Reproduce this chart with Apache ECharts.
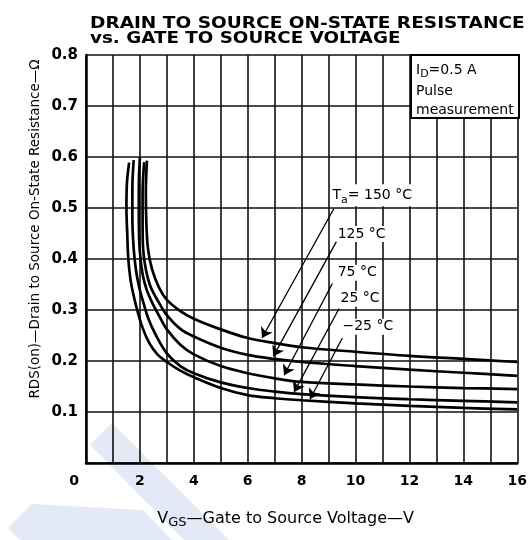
<!DOCTYPE html>
<html><head><meta charset="utf-8">
<script src="https://cdn.jsdelivr.net/npm/echarts@6/dist/echarts.min.js"></script>
<style>html,body{margin:0;padding:0;background:#fff}#c{width:530px;height:540px}</style>
</head><body><div id="c"></div>
<script>
// ---- data ----
const xTicks = [0, 2, 4, 6, 8, 10, 12, 14, 16];
const yTicks = [0.1, 0.2, 0.3, 0.4, 0.5, 0.6, 0.7, 0.8];
const seriesNames = ['150 °C', '125 °C', '75 °C', '25 °C', '−25 °C'];

const vgs150 = [2.26, 2.22, 2.24, 2.30, 2.45, 2.7, 3.0, 3.5, 4.0, 5.0, 6.0, 7.0, 8.0, 10.0, 12.0, 14.0, 16.0];
const rds150 = [0.593, 0.53, 0.47, 0.42, 0.38, 0.345, 0.32, 0.298, 0.283, 0.262, 0.245, 0.235, 0.227, 0.218, 0.210, 0.204, 0.198];

const vgs125 = [2.16, 2.10, 2.10, 2.12, 2.22, 2.4, 2.7, 3.0, 3.5, 4.0, 5.0, 6.0, 7.0, 8.0, 10.0, 12.0, 14.0, 16.0];
const rds125 = [0.59, 0.53, 0.47, 0.42, 0.38, 0.345, 0.315, 0.29, 0.263, 0.248, 0.226, 0.212, 0.204, 0.198, 0.19, 0.183, 0.177, 0.171];

const vgs75 = [2.0, 1.96, 1.96, 1.99, 2.1, 2.25, 2.45, 2.75, 3.0, 3.5, 4.0, 5.0, 6.0, 7.0, 8.0, 10.0, 12.0, 14.0, 16.0];
const rds75 = [0.60, 0.54, 0.48, 0.42, 0.37, 0.34, 0.315, 0.285, 0.262, 0.232, 0.213, 0.19, 0.176, 0.166, 0.159, 0.154, 0.150, 0.147, 0.145];

const vgs25 = [1.77, 1.72, 1.72, 1.77, 1.85, 1.97, 2.1, 2.3, 2.6, 3.0, 3.5, 4.0, 5.0, 6.0, 7.0, 8.0, 10.0, 12.0, 14.0, 16.0];
const rds25 = [0.594, 0.54, 0.48, 0.42, 0.38, 0.345, 0.32, 0.285, 0.25, 0.215, 0.19, 0.176, 0.158, 0.147, 0.140, 0.135, 0.129, 0.125, 0.122, 0.119];

const vgsM25 = [1.60, 1.52, 1.50, 1.53, 1.57, 1.65, 1.76, 1.9, 2.1, 2.35, 2.65, 3.0, 3.5, 4.0, 5.0, 6.0, 7.0, 8.0, 10.0, 12.0, 14.0, 16.0];
const rdsM25 = [0.589, 0.55, 0.50, 0.45, 0.40, 0.36, 0.33, 0.30, 0.265, 0.235, 0.213, 0.198, 0.181, 0.168, 0.147, 0.133, 0.127, 0.123, 0.117, 0.112, 0.108, 0.105];

// annotation arrows (tail -> head, in axis units) and label anchors
const arrowTail = [[9.20, 0.499], [9.29, 0.434], [9.14, 0.352], [9.39, 0.303], [9.51, 0.245]];
const arrowHead = [[6.53, 0.245], [6.95, 0.209], [7.35, 0.172], [7.72, 0.139], [8.31, 0.125]];
const labelAnchor = [[9.09, 0.525], [9.28, 0.449], [9.28, 0.373], [9.39, 0.322], [9.46, 0.267]];
const labelTexts = ['{t|T}{s|a}{t|= 150 °C}', '{t|125 °C}', '{t|75 °C}', '{t|25 °C}', '{t|−25 °C}'];

const titleLines = ['DRAIN TO SOURCE ON-STATE RESISTANCE', 'vs. GATE TO SOURCE VOLTAGE'];
const yName = 'RDS(on)—Drain to Source On-State Resistance—Ω';
const condLines = ['{t|I}{s|D}{t|=0.5 A}', 'Pulse', 'measurement'];

// ---- chart ----
const FONT = 'DejaVu Sans';
const chart = echarts.init(document.getElementById('c'), null, {renderer: 'canvas'});

function zip(xs, ys) { return xs.map((x, i) => [x, ys[i]]); }
const curves = [zip(vgs150, rds150), zip(vgs125, rds125), zip(vgs75, rds75), zip(vgs25, rds25), zip(vgsM25, rdsM25)];

const series = curves.map((d, i) => ({
  name: seriesNames[i], type: 'line', data: d, showSymbol: false, symbol: 'none',
  smooth: 0.35, lineStyle: {color: '#000', width: 2.7}, z: 3, silent: true
}));

series.push({
  type: 'line', data: [], silent: true, z: 4,
  markLine: {
    silent: true, symbol: ['none', 'arrow'], symbolSize: 10,
    lineStyle: {color: '#000', width: 1.3, type: 'solid'}, label: {show: false},
    data: arrowTail.map((t, i) => [{coord: t}, {coord: arrowHead[i]}])
  },
  markPoint: {
    silent: true, symbol: 'circle', symbolSize: 1, itemStyle: {color: 'rgba(0,0,0,0)'},
    label: {
      show: true, position: 'right', distance: 0, color: '#000',
      backgroundColor: '#fff', padding: [1, 2, 1, 1],
      rich: {
        t: {fontFamily: FONT, fontSize: 14, color: '#000'},
        s: {fontFamily: FONT, fontSize: 11, color: '#000', padding: [9, 0, 0, 0]}
      }
    },
    data: labelAnchor.map((c, i) => ({coord: c, value: 0, label: {formatter: labelTexts[i]}}))
  }
});

const option = {
  backgroundColor: '#fff',
  animation: false,
  grid: {left: 86, right: 11, top: 55, bottom: 77, containLabel: false},
  xAxis: {
    type: 'value', min: 0, max: 16, interval: 1,
    axisLine: {show: true, lineStyle: {color: '#000', width: 2.5}},
    axisTick: {show: false},
    splitLine: {show: true, lineStyle: {color: '#111', width: 1.6}},
    axisLabel: {
      margin: 11, color: '#000', fontFamily: FONT, fontWeight: 'bold', fontSize: 14,
      formatter: v => (v === 0 ? '{z|0}' : (xTicks.indexOf(v) >= 0 ? String(v) : '')),
      rich: {z: {fontFamily: FONT, fontWeight: 'bold', fontSize: 14, color: '#000', padding: [0, 24, 0, 0]}}
    },
    name: '{v|V}{s|GS}{v|—Gate to Source Voltage—V}',
    nameLocation: 'middle', nameGap: 45,
    nameTextStyle: {
      padding: [0, 32, 0, 0],
      rich: {
        v: {fontFamily: FONT, fontSize: 16, color: '#000'},
        s: {fontFamily: FONT, fontSize: 13, color: '#000', padding: [8, 0, 0, 0]}
      }
    }
  },
  yAxis: {
    type: 'value', min: 0, max: 0.8, interval: 0.1,
    axisLine: {show: true, lineStyle: {color: '#000', width: 2.5}},
    axisTick: {show: false},
    splitLine: {show: true, lineStyle: {color: '#111', width: 1.6}},
    axisLabel: {
      margin: 8, color: '#000', fontFamily: FONT, fontWeight: 'bold', fontSize: 15,
      showMinLabel: false,
      formatter: v => (yTicks.some(t => Math.abs(t - v) < 1e-6) ? v.toFixed(1) : '')
    }
  },
  graphic: [
    // watermark
    {type: 'polygon', z: -10, shape: {points: [[90, 445], [112, 423], [229, 540], [184, 540]]}, style: {fill: '#e3e9f6'}},
    {type: 'polygon', z: -10, shape: {points: [[8, 528], [32, 504], [143, 510], [172, 540], [20, 540]]}, style: {fill: '#e3e9f6'}},
    // title
    {type: 'text', x: 90, y: 24, scaleX: 1.235, style: {text: titleLines[0], fontFamily: FONT, fontWeight: 'bold', fontSize: 15, fill: '#000', align: 'left', verticalAlign: 'middle'}},
    {type: 'text', x: 90, y: 39, scaleX: 1.22, style: {text: titleLines[1], fontFamily: FONT, fontWeight: 'bold', fontSize: 15, fill: '#000', align: 'left', verticalAlign: 'middle'}},
    // y axis name
    {type: 'text', x: 35, y: 229, rotation: Math.PI / 2, style: {text: yName, fontFamily: FONT, fontSize: 13.5, fill: '#000', align: 'center', verticalAlign: 'middle'}},
    // condition box
    {type: 'rect', z: 10, shape: {x: 411, y: 55, width: 108, height: 63}, style: {fill: '#fff', stroke: '#000', lineWidth: 2}},
    {type: 'text', z: 11, x: 416, y: 70, style: {text: condLines[0], align: 'left', verticalAlign: 'middle',
      rich: {t: {fontFamily: FONT, fontSize: 14, fill: '#000'}, s: {fontFamily: FONT, fontSize: 11, fill: '#000', padding: [8, 0, 0, 0]}}}},
    {type: 'text', z: 11, x: 416, y: 91, style: {text: condLines[1], fontFamily: FONT, fontSize: 14, fill: '#000', align: 'left', verticalAlign: 'middle'}},
    {type: 'text', z: 11, x: 416, y: 110, style: {text: condLines[2], fontFamily: FONT, fontSize: 14, fill: '#000', align: 'left', verticalAlign: 'middle'}}
  ],
  series: series
};
chart.setOption(option);
</script></body></html>
